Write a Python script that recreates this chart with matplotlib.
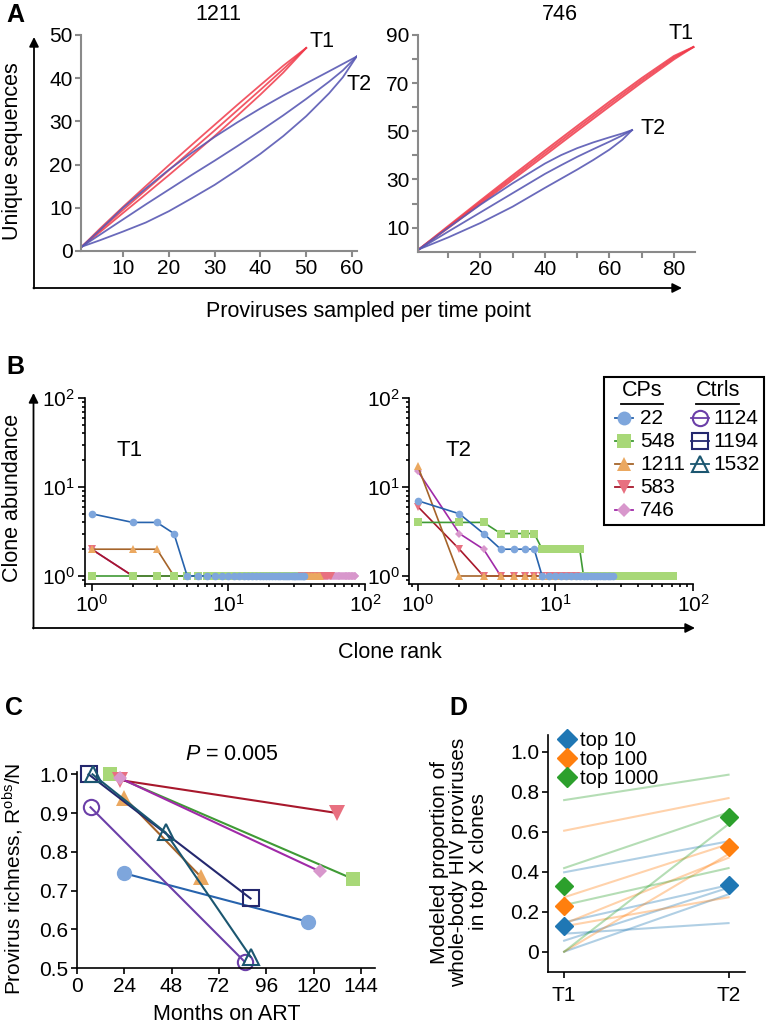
import numpy as np
import matplotlib
matplotlib.use("Agg")
import matplotlib.pyplot as plt
from matplotlib.lines import Line2D
from matplotlib.patches import Rectangle

plt.rcParams['font.family'] = ['Liberation Sans', 'DejaVu Sans']
plt.rcParams['font.size'] = 15.5
plt.rcParams['mathtext.fontset'] = 'custom'
plt.rcParams['mathtext.rm'] = 'Liberation Sans'
plt.rcParams['mathtext.it'] = 'Liberation Sans:italic'

W, H = 769, 1029
TICK = 15

# ---- panel A: rarefaction curves (upper / mean / lower) ----
a1211_t1_x = [1, 5, 10, 15, 20, 25, 30, 35, 40, 45, 50]
a1211_t1_up = [1, 5.2, 10.2, 15.05, 19.85, 24.55, 29.2, 33.85, 38.4, 42.9, 47]
a1211_t1_mid = [1, 4.8, 9.5, 14.1, 18.7, 23.3, 27.9, 32.6, 37.3, 42.1, 47]
a1211_t1_lo = [1, 4.4, 8.8, 13.15, 17.55, 22.05, 26.6, 31.35, 36.2, 41.3, 47]

a1211_t2_x = [1, 5, 10, 15, 20, 25, 30, 35, 40, 45, 50, 55, 58, 61]
a1211_t2_up = [1, 4.9, 10.0, 14.5, 18.8, 22.7, 26.4, 29.8, 33.0, 36.0, 38.8, 41.6, 43.3, 45]
a1211_t2_mid = [1, 3.8, 7.3, 10.8, 14.2, 17.6, 20.9, 24.3, 27.8, 31.4, 35.2, 39.2, 41.8, 45]
a1211_t2_lo = [1, 2.5, 4.5, 6.6, 9.2, 12.2, 15.3, 18.8, 22.5, 26.6, 31.2, 36.5, 40.2, 45]

a746_t1_x = [1, 10, 20, 30, 40, 50, 60, 70, 80, 86]
a746_t1_up = [1, 10.6, 21.2, 31.7, 42.0, 52.2, 62.3, 72.1, 81.3, 85]
a746_t1_mid = [1, 10.2, 20.5, 30.8, 41.0, 51.2, 61.3, 71.2, 80.6, 85]
a746_t1_lo = [1, 9.8, 19.8, 29.9, 40.0, 50.2, 60.3, 70.3, 79.9, 85]

a746_t2_x = [1, 10, 20, 30, 40, 45, 50, 55, 60, 64, 67]
a746_t2_up = [1, 9.9, 19.5, 28.4, 36.6, 40.1, 43.0, 45.4, 47.5, 49.1, 50.5]
a746_t2_mid = [1, 8.3, 16.3, 24.3, 32.3, 35.9, 39.4, 42.6, 45.7, 48.3, 50.5]
a746_t2_lo = [1, 5.9, 11.9, 18.7, 26.5, 30.3, 34.1, 38.1, 42.4, 46.5, 50.5]

# ---- panel B: clone abundance per rank ----
b22_t1 = [5, 4, 4, 3] + [1] * 32
b548_t1 = [1] * 30
b1211_t1 = [2, 2, 2] + [1] * 44
b583_t1 = [2] + [1] * 55
b746_t1 = [2] + [1] * 84

b22_t2 = [7, 5, 3, 2, 2, 2, 2] + [1] * 19
b548_t2 = [4, 4, 4, 3, 3, 3, 3] + [2] * 8 + [1] * 57
b1211_t2 = [17] + [1] * 44
b583_t2 = [6, 2] + [1] * 52
b746_t2 = [15, 3, 2] + [1] * 47

# ---- panel C: richness vs months on ART ----
c_ids = ["22", "548", "1211", "583", "746", "1124", "1194", "1532"]
c_months = [[24, 117], [17, 140], [24, 63], [22, 132], [22, 123], [7, 85], [6, 88], [8, 45, 88]]
c_rich = [[0.745, 0.62], [1.0, 0.73], [0.94, 0.735], [0.985, 0.90], [0.99, 0.75],
          [0.915, 0.517], [1.0, 0.68], [1.0, 0.85, 0.53]]

# ---- panel D: modeled proportion in top X clones ----
d_labels = ["top 10", "top 100", "top 1000"]
d_top10_t1 = [0.397, 0.147, 0.09, 0.055, 0.0]
d_top10_t2 = [0.552, 0.333, 0.143, 0.32, 0.287]
d_top100_t1 = [0.605, 0.272, 0.127, 0.0, 0.14]
d_top100_t2 = [0.768, 0.538, 0.272, 0.488, 0.47]
d_top1000_t1 = [0.758, 0.418, 0.233, 0.0]
d_top1000_t2 = [0.885, 0.697, 0.418, 0.638]
d_mean_t1 = [0.13, 0.227, 0.33]
d_mean_t2 = [0.333, 0.522, 0.672]

# styles per subject
line_col = {"22": "#2763ad", "548": "#3f9a35", "1211": "#a5642a", "583": "#a8182c",
            "746": "#a02aa8", "1124": "#6b3fa8", "1194": "#24286e", "1532": "#1b5670"}
fill_col = {"22": "#7ea6dc", "548": "#a8d878", "1211": "#eba860", "583": "#e87080",
            "746": "#d897cc", "1124": "none", "1194": "none", "1532": "none"}
mk = {"22": "o", "548": "s", "1211": "^", "583": "v", "746": "D",
      "1124": "o", "1194": "s", "1532": "^"}

fig = plt.figure(figsize=(W / 100, H / 100), dpi=100)


def px_axes(x0, y0, x1, y1):
    return fig.add_axes([x0 / W, 1 - y1 / H, (x1 - x0) / W, (y1 - y0) / H])


def clean(ax, col='k', lw=1.2):
    for s in ['top', 'right']:
        ax.spines[s].set_visible(False)
    for s in ['left', 'bottom']:
        ax.spines[s].set_color(col)
        ax.spines[s].set_linewidth(lw)
    ax.tick_params(which='both', color=col, width=lw, direction='out', labelsize=TICK, pad=2)
    ax.tick_params(which='major', length=4)
    ax.tick_params(which='minor', length=2.5)
    ax.patch.set_alpha(0)


# ---------------- A ----------------
red, blue = '#f03a4a', '#5a5ab4'
axA1 = px_axes(81, 35, 357, 251)
for y in [a1211_t1_up, a1211_t1_mid, a1211_t1_lo]:
    axA1.plot(a1211_t1_x, y, color=red, lw=1.3, alpha=0.85)
for y in [a1211_t2_up, a1211_t2_mid, a1211_t2_lo]:
    axA1.plot(a1211_t2_x, y, color=blue, lw=1.3, alpha=0.9)
axA1.set_xlim(0.83, 61.1)
axA1.set_ylim(0, 50)
axA1.set_xticks([10, 20, 30, 40, 50, 60])
axA1.set_yticks([0, 10, 20, 30, 40, 50])
clean(axA1, '#8a8a8a', 1.5)
axA1.text(53.4, 48.4, 'T1', ha='center', va='center')
axA1.text(61.5, 38.6, 'T2', ha='center', va='center')

axA2 = px_axes(418, 35, 695, 251.7)
for y in [a746_t1_up, a746_t1_mid, a746_t1_lo]:
    axA2.plot(a746_t1_x, y, color=red, lw=1.4, alpha=0.85)
for y in [a746_t2_up, a746_t2_mid, a746_t2_lo]:
    axA2.plot(a746_t2_x, y, color=blue, lw=1.3, alpha=0.9)
axA2.set_xlim(0.7, 86.5)
axA2.set_ylim(0, 90)
axA2.set_xticks([20, 40, 60, 80])
axA2.set_xticks([10, 30, 50, 70], minor=True)
axA2.set_yticks([10, 30, 50, 70, 90])
axA2.set_yticks([20, 40, 60, 80], minor=True)
clean(axA2, '#8a8a8a', 1.5)
axA2.tick_params(which='minor', length=4)
axA2.text(82.3, 90.6, 'T1', ha='center', va='center')
axA2.text(73.5, 51.2, 'T2', ha='center', va='center')

# ---------------- B ----------------
b_order = ["746", "583", "1211", "548", "22"]
b_t1 = {"22": b22_t1, "548": b548_t1, "1211": b1211_t1, "583": b583_t1, "746": b746_t1}
b_t2 = {"22": b22_t2, "548": b548_t2, "1211": b1211_t2, "583": b583_t2, "746": b746_t2}
b_ms = {"22": 5.5, "548": 5.5, "1211": 6, "583": 6, "746": 4.5}

axB1 = px_axes(85, 398, 365, 584)
axB2 = px_axes(409.3, 398, 693, 584)
for ax, data, xl in [(axB1, b_t1, 0.894), (axB2, b_t2, 0.865)]:
    for sid in b_order:
        v = data[sid]
        ax.plot(np.arange(1, len(v) + 1), v, color=line_col[sid], lw=1.2,
                marker=mk[sid], ms=b_ms[sid], mfc=fill_col[sid], mec=fill_col[sid],
                mew=0, clip_on=False)
    ax.set_xscale('log')
    ax.set_yscale('log')
    ax.set_xlim(xl, 100)
    ax.set_ylim(0.813, 100)
    clean(ax)
    ax.tick_params(which='major', length=5)

# ---------------- C ----------------
c_ms = {"22": 11, "548": 10.5, "1211": 11, "583": 11, "746": 7.5,
        "1124": 11, "1194": 11, "1532": 11}
axC = px_axes(76.7, 771.7, 375, 968.3)
for i, sid in enumerate(c_ids):
    axC.plot(c_months[i], c_rich[i], color=line_col[sid], lw=1.5, marker=mk[sid],
             ms=c_ms[sid], mfc=fill_col[sid],
             mec=line_col[sid] if fill_col[sid] == 'none' else fill_col[sid],
             mew=1.5 if fill_col[sid] == 'none' else 0, clip_on=False)
axC.set_xlim(0, 151)
axC.set_ylim(0.5, 1.0067)
axC.set_xticks([0, 24, 48, 72, 96, 120, 144])
axC.set_yticks([0.5, 0.6, 0.7, 0.8, 0.9, 1.0])
axC.set_yticklabels(['0.5', '0.6', '0.7', '0.8', '0.9', '1.0'])
clean(axC)

# ---------------- D ----------------
d_cols = ['#1f77b4', '#ff7f0e', '#2ca02c']
axD = px_axes(547.7, 735, 745, 971.7)
for c, t1, t2 in zip(d_cols, [d_top10_t1, d_top100_t1, d_top1000_t1],
                     [d_top10_t2, d_top100_t2, d_top1000_t2]):
    for a, b in zip(t1, t2):
        axD.plot([0, 1], [a, b], color=c, lw=1.5, alpha=0.35)
for c, a, b in zip(d_cols, d_mean_t1, d_mean_t2):
    axD.plot([0, 1], [a, b], ls='none', marker='D', ms=9.5, color=c, zorder=5, clip_on=False)
axD.set_xlim(-0.1, 1.1)
axD.set_ylim(-0.1, 1.0835)
axD.set_xticks([0, 1])
axD.set_xticklabels(['T1', 'T2'])
axD.set_yticks([0, 0.2, 0.4, 0.6, 0.8, 1.0])
axD.set_yticklabels(['0', '0.2', '0.4', '0.6', '0.8', '1.0'])
clean(axD)
axD.tick_params(axis='x', pad=6)
hd = [Line2D([], [], ls='none', marker='D', ms=10, color=c) for c in d_cols]
axD.legend(hd, d_labels, loc='upper left', bbox_to_anchor=(0.055, 1.015), frameon=False,
           handlelength=0.8, handletextpad=0.25, labelspacing=0.0, borderpad=0,
           borderaxespad=0, fontsize=14.5)

# ---------------- overlay: letters, outer axes, labels, B legend ----------------
ov = fig.add_axes([0, 0, 1, 1])
ov.set_xlim(0, W)
ov.set_ylim(H, 0)
ov.axis('off')
ov.patch.set_visible(False)

arr = dict(arrowstyle='-|>', color='k', lw=1.3, mutation_scale=14, shrinkA=0, shrinkB=0)
ov.annotate('', xy=(34, 37), xytext=(34, 288.5), arrowprops=arr)
ov.annotate('', xy=(682, 288), xytext=(33.4, 288), arrowprops=arr)
ov.annotate('', xy=(33.5, 393), xytext=(33.5, 628.5), arrowprops=arr)
ov.annotate('', xy=(695, 628), xytext=(32.9, 628), arrowprops=arr)

for t, x, y in [('A', 15, 15), ('B', 15, 367), ('C', 14, 708), ('D', 458, 708)]:
    ov.text(x, y, t, fontsize=18, weight='bold', ha='center', va='center')

ov.text(218, 15, '1211', ha='center', va='center')
ov.text(560, 15, '746', ha='center', va='center')
ov.text(13, 151, 'Unique sequences', rotation=90, ha='center', va='center')
ov.text(368, 311, 'Proviruses sampled per time point', ha='center', va='center')
ov.text(13, 498, 'Clone abundance', rotation=90, ha='center', va='center')
ov.text(390, 652, 'Clone rank', ha='center', va='center')
ov.text(130, 450, 'T1', ha='center', va='center', fontsize=16)
ov.text(458, 450, 'T2', ha='center', va='center', fontsize=16)
ov.text(13, 879, 'Provirus richness, R$^{\\mathrm{obs}}$/N', rotation=90, ha='center',
        va='center', fontsize=15)
ov.text(227, 1014, 'Months on ART', ha='center', va='center')
ov.text(232, 754, '$P$ = 0.005', ha='center', va='center')
ov.text(459, 862, 'Modeled proportion of\nwhole-body HIV proviruses\nin top X clones',
        rotation=90, ha='center', va='center', linespacing=1.05, multialignment='center',
        fontsize=15)

# legend of B drawn by hand (two titled columns)
ov.add_patch(Rectangle((604, 377), 160, 148, fc='white', ec='k', lw=1.5))
ov.text(642, 391, 'CPs', ha='center', va='center')
ov.text(718, 391, 'Ctrls', ha='center', va='center')
ov.plot([621, 663], [403.5, 403.5], color='k', lw=1.3)
ov.plot([696, 739], [403.5, 403.5], color='k', lw=1.3)
for i, sid in enumerate(["22", "548", "1211", "583", "746"]):
    y = 418.3 + i * 23
    ov.plot([615, 633], [y, y], color=line_col[sid], lw=1.3)
    ov.plot(624, y, marker=mk[sid], ms=10 if mk[sid] != 'D' else 7.5, mfc=fill_col[sid],
            mec=fill_col[sid], mew=0)
    ov.text(640, y, sid, ha='left', va='center', fontsize=TICK)
for i, sid in enumerate(["1124", "1194", "1532"]):
    y = 418.3 + i * 23
    ov.plot([691, 709], [y, y], color=line_col[sid], lw=1.3)
    ov.plot(700, y, marker=mk[sid], ms=11, mfc='none', mec=line_col[sid], mew=1.5)
    ov.text(713.5, y, sid, ha='left', va='center', fontsize=TICK)

fig.savefig('out.png', dpi=100)
